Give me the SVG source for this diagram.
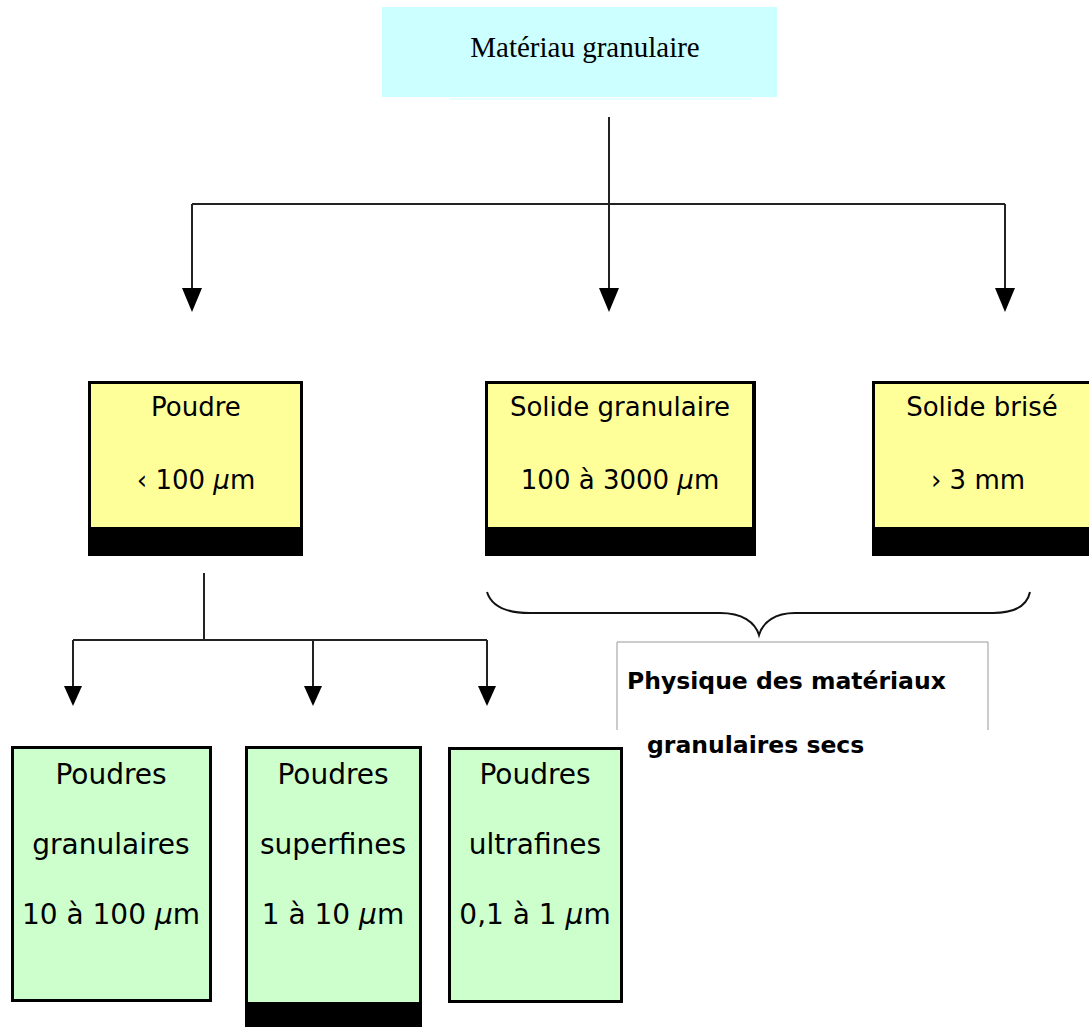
<svg xmlns="http://www.w3.org/2000/svg" width="1089" height="1027" viewBox="0 0 1089 1027">
<style>
.comic{font-family:"Comic Sans MS","DejaVu Sans",sans-serif;fill:#000;text-anchor:middle}
.y{font-size:26px}
.g{font-size:28px}
.yel{fill:#FFFF99;stroke:#000;stroke-width:3}
.grn{fill:#CCFFCC;stroke:#000;stroke-width:3}
.bar{fill:#000}
.conn{stroke:#222;stroke-width:2;fill:none}
.mu{font-style:italic}
.phys{font-family:"Comic Sans MS","DejaVu Sans",sans-serif;font-weight:bold;font-size:23.5px;fill:#000}
</style>
<defs>
<marker id="arr" viewBox="0 0 24 20" refX="0" refY="10" markerWidth="24" markerHeight="20" markerUnits="userSpaceOnUse" orient="auto">
<path d="M0,0 L24,10 L0,20 Z" fill="#000"/>
</marker>
<marker id="arrs" viewBox="0 0 20 18" refX="0" refY="9" markerWidth="20" markerHeight="18" markerUnits="userSpaceOnUse" orient="auto">
<path d="M0,0 L20,9 L0,18 Z" fill="#000"/>
</marker>
</defs>

<g id="materiau">
<rect x="382" y="7" width="395" height="90" fill="#CCFFFF"/>
<line x1="450" y1="99" x2="752" y2="99" stroke="#E0FFFF" stroke-width="1.5"/>
<text x="585" y="57" font-family="Liberation Serif,serif" font-size="29" text-anchor="middle">Matériau granulaire</text>
</g>

<g id="connectors">
<path class="conn" d="M609,117 V204"/>
<path class="conn" d="M192,204 H1005"/>
<path class="conn" d="M192,204 V288" marker-end="url(#arr)"/>
<path class="conn" d="M609,204 V288" marker-end="url(#arr)"/>
<path class="conn" d="M1005,204 V288" marker-end="url(#arr)"/>
<path class="conn" d="M204,573 V640"/>
<path class="conn" d="M73,640 H487"/>
<path class="conn" d="M73,640 V686" marker-end="url(#arrs)"/>
<path class="conn" d="M313,640 V686" marker-end="url(#arrs)"/>
<path class="conn" d="M487,640 V686" marker-end="url(#arrs)"/>
<path d="M487,592 C492,608 510,613 530,613 L720,613 C742,613 755,622 759,635 C763,622 775,613 795,613 L993,613 C1015,613 1027,606 1030,592" fill="none" stroke="#111" stroke-width="2"/>
</g>

<g id="poudre">
<rect class="yel" x="89.5" y="382.5" width="212" height="172"/>
<rect class="bar" x="88" y="527" width="215" height="29"/>
<text class="comic y" x="196" y="416">Poudre</text>
<text class="comic y" x="196" y="489">‹ 100 <tspan class="mu">µ</tspan>m</text>
</g>

<g id="solide-granulaire">
<rect class="yel" x="486.5" y="382.5" width="267" height="172"/>
<rect class="bar" x="485" y="527" width="268" height="29"/>
<line x1="755" y1="381" x2="755" y2="556" stroke="#000" stroke-width="2"/>
<text class="comic y" x="620" y="416">Solide granulaire</text>
<text class="comic y" x="620" y="489">100 à 3000 <tspan class="mu">µ</tspan>m</text>
</g>

<g id="solide-brise">
<rect class="yel" x="873.5" y="382.5" width="230" height="172"/>
<rect class="bar" x="872" y="527" width="217" height="29"/>
<text class="comic y" x="982" y="416">Solide brisé</text>
<text class="comic y" x="978" y="489">› 3 mm</text>
</g>

<g id="physique">
<path d="M617,730 V642 H988 V730" fill="none" stroke="#999" stroke-width="1"/>
<text class="phys" x="627" y="689">Physique des matériaux</text>
<text class="phys" x="647" y="753">granulaires secs</text>
</g>

<g id="poudres-granulaires">
<rect class="grn" x="12.5" y="747.5" width="198" height="253"/>
<text class="comic g" x="111" y="784">Poudres</text>
<text class="comic g" x="111" y="854">granulaires</text>
<text class="comic g" x="111" y="924">10 à 100 <tspan class="mu">µ</tspan>m</text>
</g>

<g id="poudres-superfines">
<rect class="grn" x="246.5" y="747.5" width="174" height="281"/>
<rect class="bar" x="245" y="1002" width="176" height="25"/>
<text class="comic g" x="333" y="784">Poudres</text>
<text class="comic g" x="333" y="854">superfines</text>
<text class="comic g" x="333" y="924">1 à 10 <tspan class="mu">µ</tspan>m</text>
</g>

<g id="poudres-ultrafines">
<rect class="grn" x="449.5" y="748.5" width="172" height="253"/>
<text class="comic g" x="535" y="784">Poudres</text>
<text class="comic g" x="535" y="854">ultrafines</text>
<text class="comic g" x="535" y="924">0,1 à 1 <tspan class="mu">µ</tspan>m</text>
</g>
</svg>
